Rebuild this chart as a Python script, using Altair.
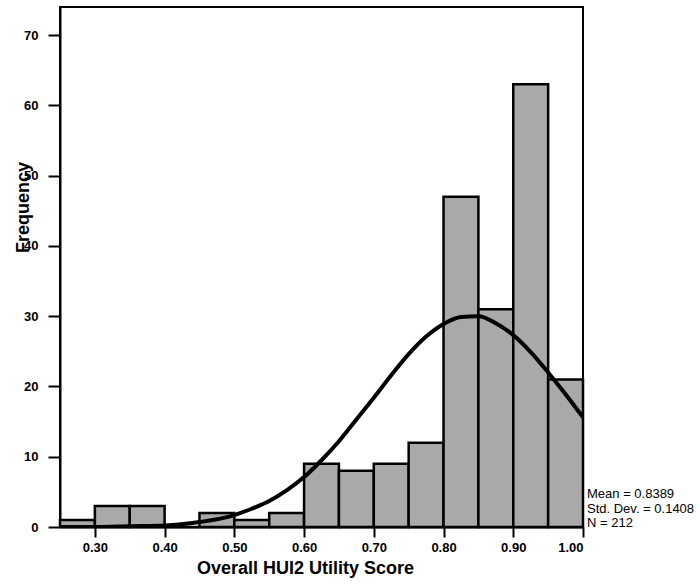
import altair as alt
import pandas as pd

# Histogram bins (width 0.05) and frequencies
bin_start = [0.25, 0.30, 0.35, 0.40, 0.45, 0.50, 0.55, 0.60, 0.65, 0.70, 0.75, 0.80, 0.85, 0.90, 0.95]
bin_end = [0.30, 0.35, 0.40, 0.45, 0.50, 0.55, 0.60, 0.65, 0.70, 0.75, 0.80, 0.85, 0.90, 0.95, 1.00]
counts = [1, 3, 3, 0, 2, 1, 2, 9, 8, 9, 12, 47, 31, 63, 21]

# Fitted normal curve
curve_x = [0.25, 0.30, 0.35, 0.40, 0.45, 0.50, 0.525, 0.55, 0.575, 0.60, 0.625, 0.65, 0.675,
           0.70, 0.725, 0.75, 0.775, 0.80, 0.825, 0.85, 0.875, 0.90, 0.925, 0.95, 0.975, 1.00]
curve_y = [0.0, 0.0, 0.1, 0.2, 0.7, 1.7, 2.6, 3.7, 5.2, 7.1, 9.5, 12.2, 15.3,
           18.4, 21.6, 24.6, 27.1, 28.9, 29.9, 30.0, 29.0, 27.3, 24.9, 22.0, 18.9, 15.6]

stats_lines = ["Mean = 0.8389", "Std. Dev. = 0.1408", "N = 212"]
x_ticks = [0.3, 0.4, 0.5, 0.6, 0.7, 0.8, 0.9, 1.0]
y_ticks = [0, 10, 20, 30, 40, 50, 60, 70]

FONT = "Liberation Sans"

bars_df = pd.DataFrame({"start": bin_start, "end": bin_end, "count": counts})
curve_df = pd.DataFrame({"x": curve_x, "y": curve_y})

xs = alt.Scale(domain=[0.25, 1.0], nice=False, zero=False)
ys = alt.Scale(domain=[0, 74], nice=False)

x_axis = alt.Axis(
    values=x_ticks, format=".2f", title="Overall HUI2 Utility Score",
    tickSize=10, labelPadding=4, labelFontSize=13, labelFontWeight="bold",
    titleFontSize=18, titleFontWeight="bold", titleX=245, titleY=46,
    titleAlign="center", titleBaseline="alphabetic",
)
y_axis = alt.Axis(
    values=y_ticks, title="Frequency",
    tickSize=12, labelPadding=10, labelFontSize=13, labelFontWeight="bold",
    titleFontSize=18, titleFontWeight="bold", titleX=-32, titleY=200,
    titleAngle=270, titleAlign="center", titleBaseline="alphabetic",
)

bars = alt.Chart(bars_df).mark_rect(
    fill="#a9a9a9", stroke="black", strokeWidth=2.5
).encode(
    x=alt.X("start:Q", scale=xs, axis=x_axis),
    x2="end:Q",
    y=alt.Y("count:Q", scale=ys, axis=y_axis),
    y2=alt.datum(0),
)

curve = alt.Chart(curve_df).mark_line(
    color="black", strokeWidth=4, interpolate="monotone", clip=True
).encode(
    x=alt.X("x:Q", scale=xs),
    y=alt.Y("y:Q", scale=ys),
)

stats = alt.Chart(pd.DataFrame({"a": [0]})).mark_text(
    text=stats_lines, align="left", baseline="middle", dx=4,
    font=FONT, fontSize=13, lineHeight=14.5, color="black",
).encode(
    x=alt.datum(1.0),
    y=alt.value(487),
)

chart = alt.layer(bars, curve, stats).properties(
    width=523, height=520,
    autosize=alt.AutoSizeParams(type="none"),
    padding={"left": 60, "top": 7, "right": 117, "bottom": 59},
).configure_view(
    stroke="black", strokeWidth=2,
).configure_axis(
    grid=False, domainColor="black", domainWidth=2, tickColor="black", tickWidth=2,
    labelColor="black", titleColor="black", labelFont=FONT, titleFont=FONT,
)

chart.save("out.html", embed_options={"renderer": "svg", "actions": False})
